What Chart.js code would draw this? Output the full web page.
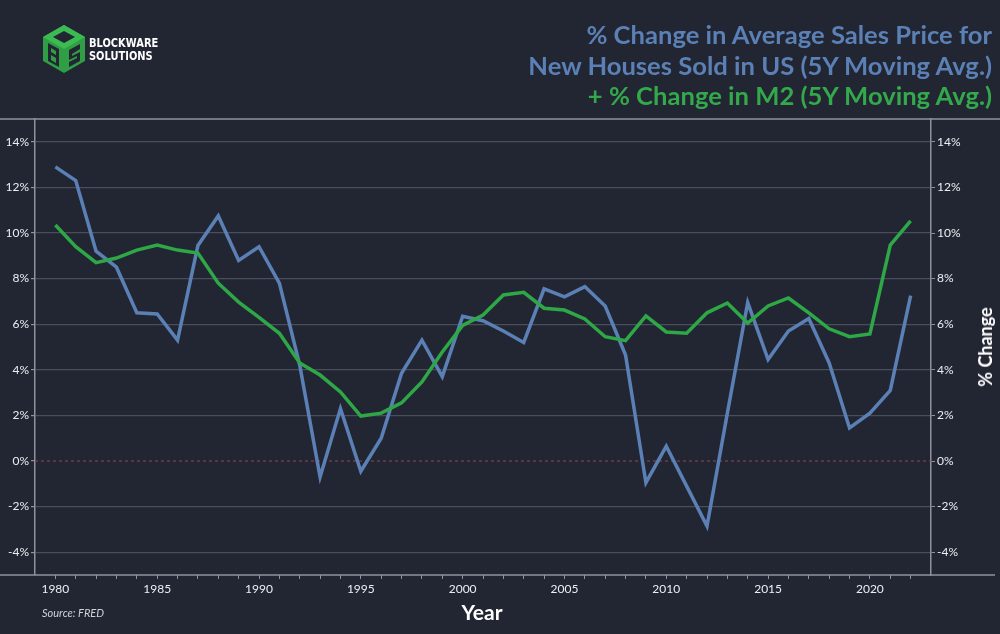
<!DOCTYPE html>
<html>
<head>
<meta charset="utf-8">
<script src="https://cdn.jsdelivr.net/npm/chart.js@4"></script>
<style>
  html, body { margin: 0; padding: 0; background: #222633; }
  #wrap { position: relative; width: 1000px; height: 634px; overflow: hidden; background: #222633; font-family: Lato, "Open Sans", sans-serif; }
  #wrap canvas { position: absolute; left: 0; top: 0; }
  .title { position: absolute; right: 8px; top: 19px; text-align: right; font-weight: bold; font-size: 25.6px; line-height: 30.5px; color: #5b80b5; }
  .title .m2 { color: #33a94b; }
  .logo { position: absolute; left: 41px; top: 24px; }
  .logotxt { position: absolute; left: 89px; top: 36px; color: #fff; font-family: "DejaVu Sans", sans-serif; font-weight: bold; font-size: 13px; line-height: 13px; transform: scaleX(0.76); transform-origin: left top; }
  .src { position: absolute; left: 42px; top: 606px; color: #d0d2d8; font-style: italic; font-size: 11px; }
  .xt { position: absolute; left: 482px; top: 599px; transform: translateX(-50%); color: #fff; font-weight: bold; font-size: 21px; }
  .yt { position: absolute; left: 985px; top: 347px; transform: translate(-50%, -50%) rotate(-90deg); color: #fff; font-weight: bold; font-size: 18px; white-space: nowrap; }
</style>
</head>
<body>
<div id="wrap">
  <canvas id="chart" width="1000" height="634"></canvas>
  <svg class="logo" width="46" height="50" viewBox="0 0 46 50">
    <polygon points="23,1 44,13 44,37 23,49 2,37 2,13" fill="#2f9e44"/>
    <polygon points="23,1 44,13 23,25 2,13" fill="#3bbb52"/>
    <polygon points="23,7 34,13 23,19 12,13" fill="#222633"/>
    <path d="M7 19 L18 25 L18 43 L7 37 Z M10 24 L15 27 L15 31 L10 28 Z M10 31 L15 34 L15 39 L10 36 Z" fill="#222633" fill-rule="evenodd"/>
    <path d="M28 26 L39 20 L39 25 L31 30 L31 32 L39 28 L39 37 L28 43 L28 38 L36 34 L36 32 L28 36 Z" fill="#222633"/>
  </svg>
  <div class="logotxt">BLOCKWARE<br>SOLUTIONS</div>
  <div class="title">% Change in Average Sales Price for<br>New Houses Sold in US (5Y Moving Avg.)<br><span class="m2">+ % Change in M2 (5Y Moving Avg.)</span></div>
  <div class="src">Source: FRED</div>
  <div class="xt">Year</div>
  <div class="yt">% Change</div>
</div>
<script>
var years = [1980,1981,1982,1983,1984,1985,1986,1987,1988,1989,
  1990,1991,1992,1993,1994,1995,1996,1997,1998,1999,
  2000,2001,2002,2003,2004,2005,2006,2007,2008,2009,
  2010,2011,2012,2013,2014,2015,2016,2017,2018,2019,
  2020,2021,2022];
var housePrice = [12.9,12.3,9.2,8.5,6.5,6.45,5.3,9.45,10.75,8.8,
  9.4,7.8,4.2,-0.7,2.3,-0.45,1.0,3.85,5.3,3.7,
  6.35,6.15,5.7,5.2,7.55,7.2,7.65,6.8,4.65,-0.95,
  0.65,-1.1,-2.85,2.1,6.95,4.45,5.7,6.25,4.3,1.45,
  2.1,3.1,7.25];
var m2 = [10.35,9.4,8.7,8.9,9.25,9.47,9.25,9.12,7.8,6.97,
  6.3,5.6,4.3,3.77,3.03,1.97,2.1,2.55,3.47,4.78,
  5.95,6.4,7.28,7.4,6.7,6.62,6.23,5.45,5.28,6.36,
  5.66,5.6,6.5,6.93,6.05,6.8,7.15,6.5,5.8,5.45,
  5.57,9.47,10.53];
var yTicks = [-4,-2,0,2,4,6,8,10,12,14];
var xRange = [1979, 2023];

function toPoints(arr) {
  return years.map(function (yr, i) { return { x: yr, y: arr[i] }; });
}

// top and bottom frame lines run the full width of the picture
var frame = {
  id: 'frame',
  beforeDatasetsDraw: function (chart) {
    var c = chart.ctx, a = chart.chartArea;
    c.save();
    c.strokeStyle = '#8f929c';
    c.lineWidth = 1.5;
    c.beginPath();
    c.moveTo(0, a.top); c.lineTo(chart.width, a.top);
    c.moveTo(0, a.bottom); c.lineTo(chart.width - 5, a.bottom);
    c.stroke();
    c.restore();
  }
};

var tickFont = { family: 'Lato', size: 12 };

var ctx = document.getElementById('chart').getContext('2d');
var chart = new Chart(ctx, {
  type: 'line',
  data: {
    datasets: [{
      label: 'House price',
      data: toPoints(housePrice),
      borderColor: '#5b80b5',
      borderWidth: 3.5,
      pointRadius: 0,
      order: 2
    }, {
      label: 'M2',
      data: toPoints(m2),
      borderColor: '#2ea846',
      borderWidth: 3.5,
      pointRadius: 0,
      order: 1
    }, {
      label: 'zero',
      data: [{ x: xRange[0], y: 0 }, { x: xRange[1], y: 0 }],
      borderColor: '#934557',
      borderWidth: 1,
      borderDash: [3, 3],
      pointRadius: 0,
      order: 3
    }]
  },
  plugins: [frame],
  options: {
    responsive: false,
    animation: false,
    layout: { padding: { top: 119, left: 0, right: 0, bottom: 0 } },
    plugins: { legend: { display: false }, tooltip: { enabled: false } },
    scales: {
      x: {
        type: 'linear',
        min: xRange[0],
        max: xRange[1],
        afterFit: function (s) { s.height = 59; },
        afterBuildTicks: function (s) {
          s.ticks = years.map(function (y) { return { value: y }; });
        },
        ticks: {
          autoSkip: false,
          maxRotation: 0,
          padding: 3,
          color: '#eceef2',
          font: tickFont,
          callback: function (v) { return v % 5 === 0 ? String(v) : ''; }
        },
        grid: {
          drawOnChartArea: false,
          tickLength: 4,
          tickColor: '#8f929c'
        },
        border: { display: false }
      },
      y: {
        position: 'left',
        min: -5,
        max: 15,
        afterFit: function (s) { s.width = 35; },
        afterBuildTicks: function (s) {
          s.ticks = yTicks.map(function (v) { return { value: v }; });
        },
        ticks: {
          padding: 2,
          color: '#eceef2',
          font: tickFont,
          callback: function (v) { return v + '%'; }
        },
        grid: {
          color: function (c) { return c.tick && c.tick.value === 0 ? 'rgba(0,0,0,0)' : '#4a4e5b'; },
          lineWidth: 1.2,
          tickLength: 4,
          tickColor: '#8f929c'
        },
        border: { color: '#8f929c', width: 1.5 }
      },
      y2: {
        position: 'right',
        min: -5,
        max: 15,
        afterFit: function (s) { s.width = 69; },
        afterBuildTicks: function (s) {
          s.ticks = yTicks.map(function (v) { return { value: v }; });
        },
        ticks: {
          padding: 2,
          color: '#eceef2',
          font: tickFont,
          callback: function (v) { return v + '%'; }
        },
        grid: {
          drawOnChartArea: false,
          tickLength: 4,
          tickColor: '#8f929c'
        },
        border: { color: '#8f929c', width: 1.5 }
      }
    }
  }
});
</script>
</body>
</html>
